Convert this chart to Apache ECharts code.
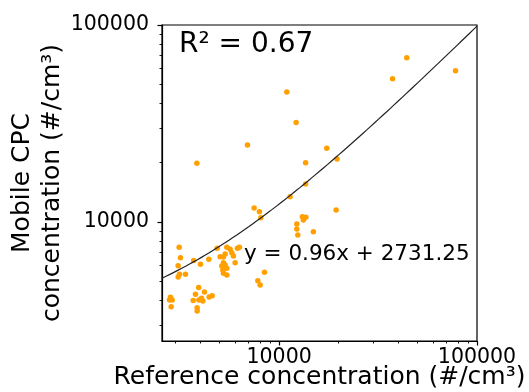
<!DOCTYPE html>
<html><head><meta charset="utf-8">
<script src="https://cdn.jsdelivr.net/npm/echarts@6/dist/echarts.min.js"></script>
<style>html,body{margin:0;padding:0;background:#fff}#c{width:529px;height:392px}</style>
</head><body><div id="c"></div>
<script>
// Reference concentration (#/cm3)
const refX = [3126,3173,3090,3137,3090,3363,3700,4005,4415,2825,2882,2793,2848,3922,3779,4195,3680,3931,4051,4117,4588,4430,3854,3854,
  4863,5443,5655,6157,6300,5337,5768,5876,5035,5233,5995,5233,5135,5337,5196,5443,5233,5443,8431,7806,8017,
  3840,6918,7476,7952,8083,11366,13610,13610,12186,10937,17414,19634,19409,13110,13643,13263,12284,12284,12429,14900,37434,44157,77888];
// Mobile CPC concentration (#/cm3)
const cpcY = [7440,6590,6000,5426,5257,5426,6376,6099,6466,4148,4018,4018,3715,4651,4295,4413,3995,4018,4101,3972,4225,4162,3673,3533,
  7355,7440,7270,7355,7440,6880,6986,6721,6667,6642,6216,6216,5978,6048,5706,5821,5490,5383,5555,5035,4788,
  19860,24600,11779,11280,10515,13440,15598,20000,31990,45700,23670,20880,11505,10640,10565,10237,9768,9214,8590,8929,53390,68230,58540];
const majorTicks = [10000, 100000];
const minorTicks = [3000,4000,5000,6000,7000,8000,9000,20000,30000,40000,50000,60000,70000,80000,90000];
const xMin = 2560, xMax = 100000, yMin = 2490, yMax = 100000;
const fitSlope = 0.96, fitIntercept = 2731.25;
const r2Text = 'R\u00b2 = 0.67';
const fitText = 'y = 0.96x + 2731.25';
const xTitle = 'Reference concentration (#/cm\u00b3)';
const yTitle = 'Mobile CPC\nconcentration (#/cm\u00b3)';

const FONT = 'DejaVu Sans';
const fitLine = [];
for (let i = 0; i <= 80; i++) {
  const x = xMin * Math.pow(xMax / xMin, i / 80);
  fitLine.push([x, fitSlope * x + fitIntercept]);
}

function axisBase(min, max, major, labelMargin) {
  return {
    type: 'log', logBase: 10, min: min, max: max,
    axisLine: {show: major, onZero: false, lineStyle: {color: '#000', width: 1.2}},
    splitLine: {show: false},
    axisTick: {show: true, inside: false, length: major ? 4.5 : 2.5,
      customValues: major ? majorTicks : minorTicks,
      lineStyle: {color: '#000', width: major ? 1.2 : 0.9}},
    axisLabel: major ? {show: true, customValues: majorTicks,
      formatter: v => String(Math.round(v)), fontFamily: FONT, fontSize: 20.5, color: '#000', margin: labelMargin}
      : {show: false},
    nameMoveOverlap: false
  };
}

const chart = echarts.init(document.getElementById('c'), null, {renderer: 'canvas'});
const xa0 = Object.assign(axisBase(xMin, xMax, true, 6), {
  position: 'bottom', name: xTitle, nameLocation: 'middle', nameGap: 24,
  nameTextStyle: {fontFamily: FONT, fontSize: 25, color: '#000'}
});
const xa1 = Object.assign(axisBase(xMin, xMax, false, 6), {position: 'bottom'});
const ya0 = Object.assign(axisBase(yMin, yMax, true, 13), {
  position: 'left', name: yTitle, nameLocation: 'middle', nameRotate: 90, nameGap: 95,
  nameTextStyle: {fontFamily: FONT, fontSize: 25, lineHeight: 30, color: '#000'}
});
const ya1 = Object.assign(axisBase(yMin, yMax, false, 13), {position: 'left'});

chart.setOption({
  animation: false,
  backgroundColor: '#fff',
  grid: {left: 162, top: 25, width: 315, height: 316, show: true, borderColor: '#000', borderWidth: 1.2,
    containLabel: false, outerBoundsMode: 'none'},
  xAxis: [xa0, xa1],
  yAxis: [ya0, ya1],
  graphic: [
    {type: 'text', left: 179, top: 31, style: {text: r2Text, font: '28px "DejaVu Sans"', fill: '#000'}},
    {type: 'text', left: 244, top: 243, style: {text: fitText, font: '21.5px "DejaVu Sans"', fill: '#000'}}
  ],
  series: [
    {type: 'scatter', xAxisIndex: 0, yAxisIndex: 0, data: refX.map((x, i) => [x, cpcY[i]]),
      symbolSize: 5.5, itemStyle: {color: '#ffa000', opacity: 1}, z: 2},
    {type: 'line', xAxisIndex: 0, yAxisIndex: 0, data: fitLine, showSymbol: false, symbol: 'none',
      lineStyle: {color: '#222', width: 1.2}, z: 3, silent: true}
  ]
});
</script></body></html>
